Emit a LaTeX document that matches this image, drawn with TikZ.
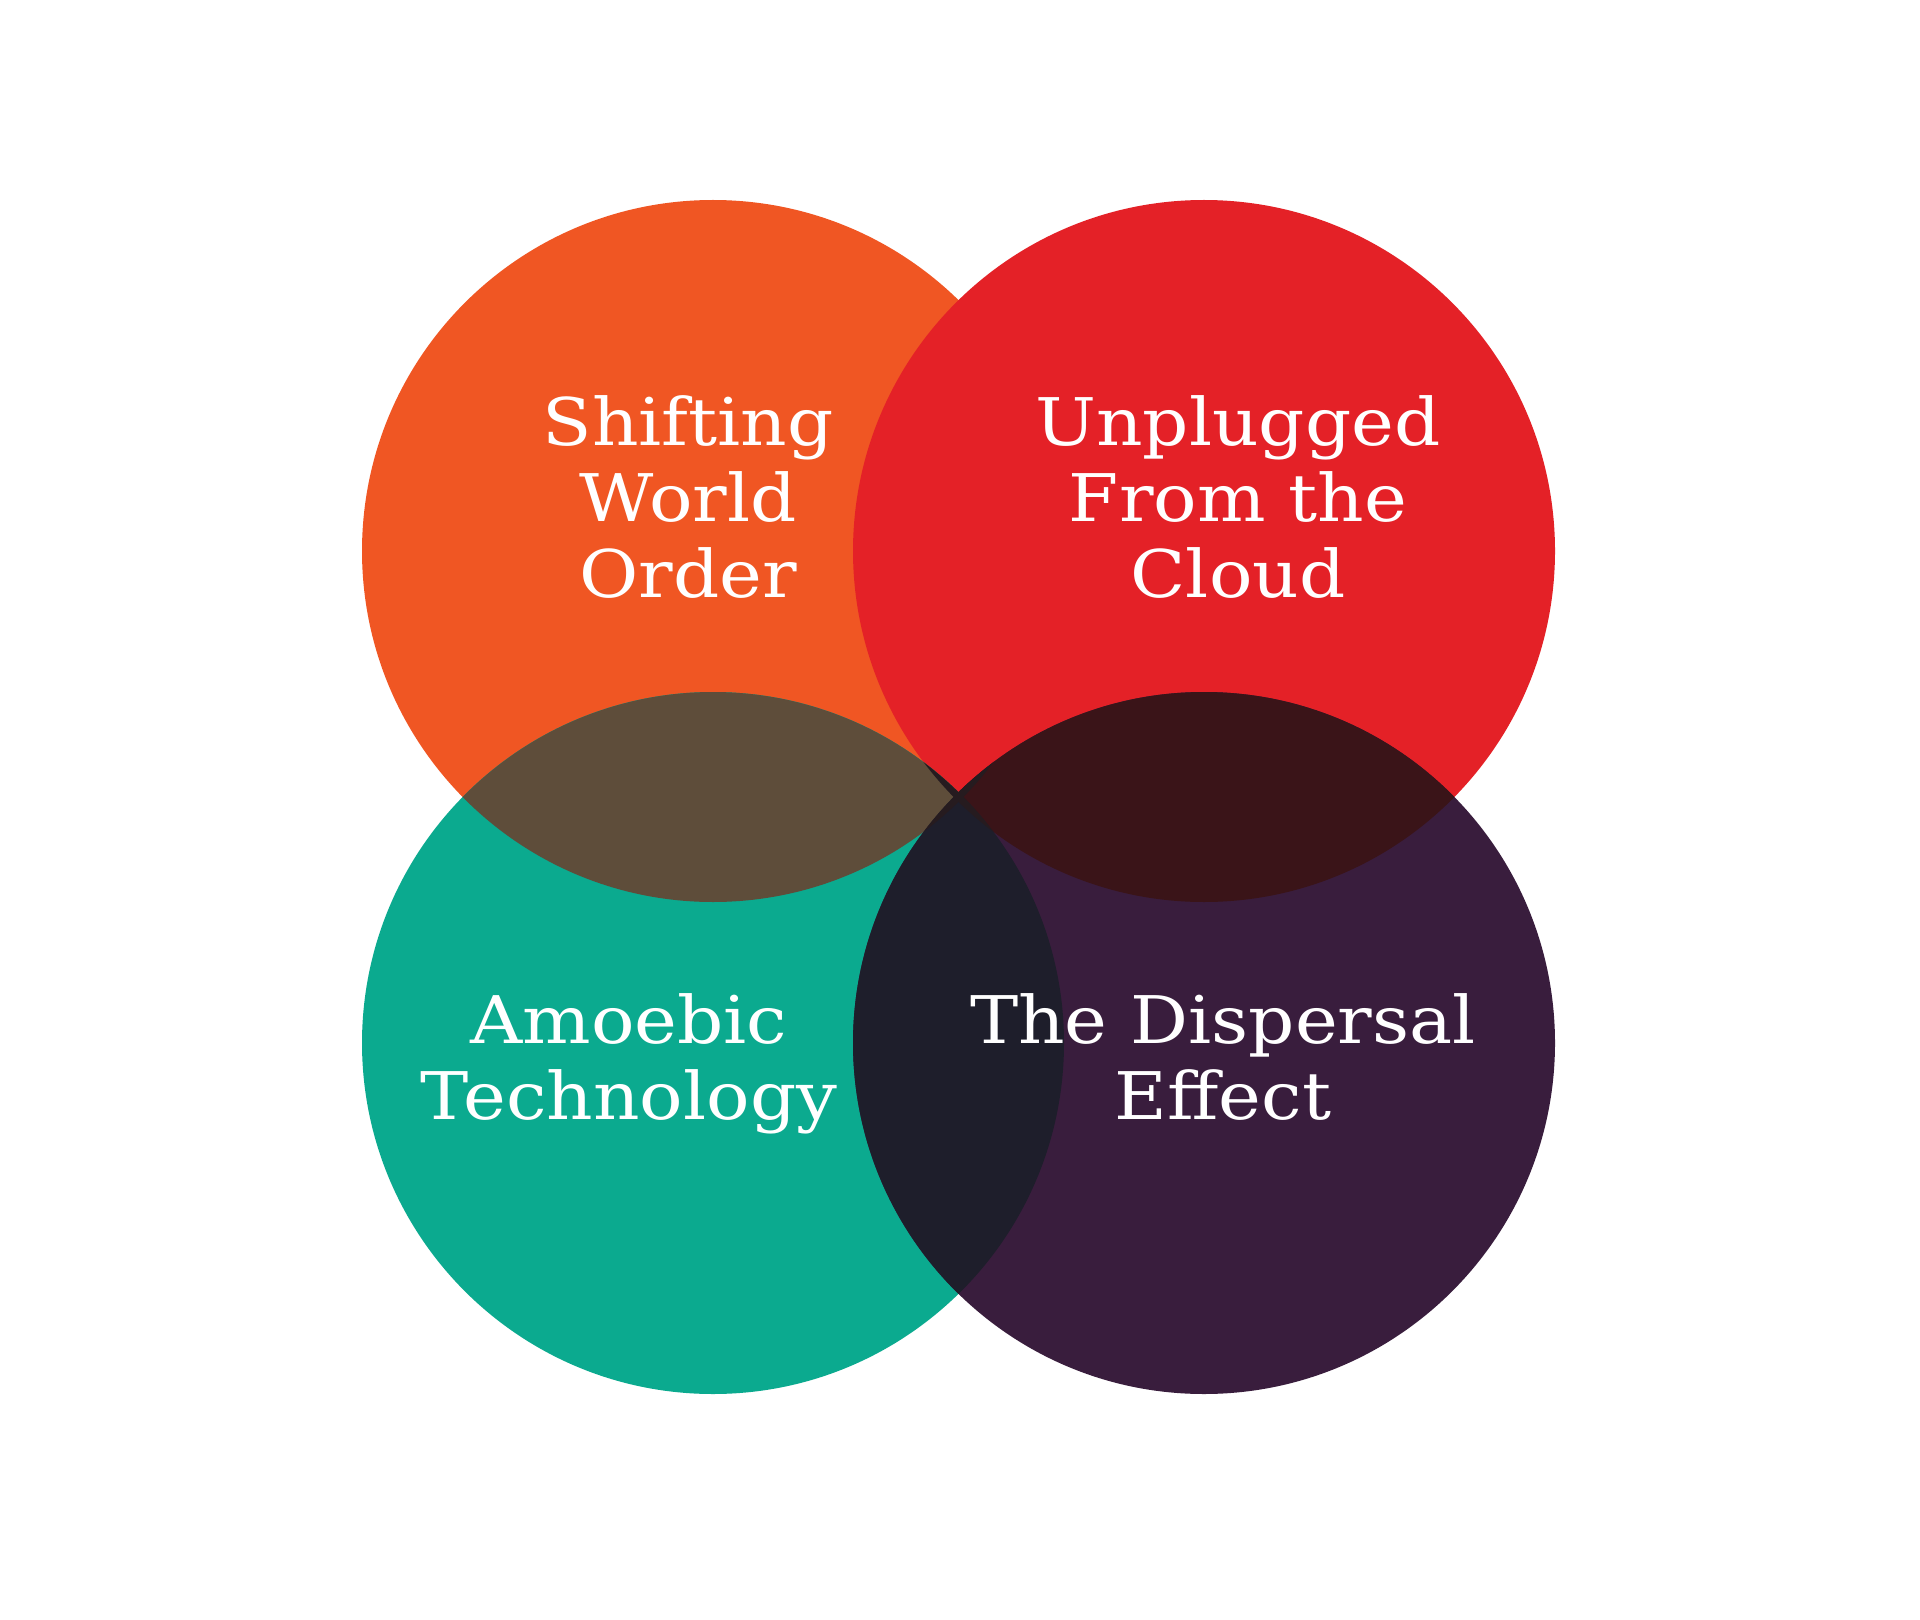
\documentclass[tikz,border=0pt]{standalone}
\usepackage{fontspec}
\setmainfont[FakeStretch=1.1]{DejaVu Serif}
\usepackage{tikz}
\usetikzlibrary{positioning}

\definecolor{worldorange}{HTML}{F05623}
\definecolor{cloudred}{HTML}{E42127}
\definecolor{amoebateal}{HTML}{0BAA8F}
\definecolor{dispersalpurple}{HTML}{391D3D}
\definecolor{lensbrown}{HTML}{5E4D3A}
\definecolor{lensmaroon}{HTML}{3A1418}
\definecolor{lensnavy}{HTML}{1E1E2B}
\definecolor{lenscore}{HTML}{261B1F}

\tikzset{
  venntext/.style={text=white, align=center, inner sep=0pt,
    font=\fontsize{18.7}{21.6}\selectfont}
}

\begin{document}
\begin{tikzpicture}

\useasboundingbox (0,0) rectangle (19.2,-16.2);
\fill[white] (0,0) rectangle (19.2,-16.2);

\coordinate (tl) at (7.13,-5.51);
\coordinate (tr) at (12.04,-5.51);
\coordinate (bl) at (7.13,-10.43);
\coordinate (br) at (12.04,-10.43);

\fill[worldorange] (tl) circle (3.51);
\fill[cloudred] (tr) circle (3.51);
\fill[amoebateal] (bl) circle (3.51);
\fill[dispersalpurple] (br) circle (3.51);

\begin{scope}
\clip (tl) circle (3.51);
\fill[lensbrown] (bl) circle (3.51);
\end{scope}

\begin{scope}
\clip (tr) circle (3.51);
\fill[lensmaroon] (br) circle (3.51);
\end{scope}

\begin{scope}
\clip (bl) circle (3.51);
\fill[lensnavy] (br) circle (3.51);
\end{scope}

\begin{scope}
\clip (tl) circle (3.51);
\fill[lenscore] (br) circle (3.51);
\end{scope}

\begin{scope}
\clip (tr) circle (3.51);
\fill[lenscore] (bl) circle (3.51);
\end{scope}

\node[venntext] (shifting) at (6.88,-4.97) {Shifting\\World\\Order};
\node[venntext] (unplugged) at (12.38,-4.97) {Unplugged\\From the\\Cloud};
\node[venntext] (amoebic) at (6.29,-10.64) {Amoebic\\Technology};
\node[venntext] (dispersal) at (12.23,-10.57) {The Dispersal\\Effect};

\end{tikzpicture}
\end{document}
